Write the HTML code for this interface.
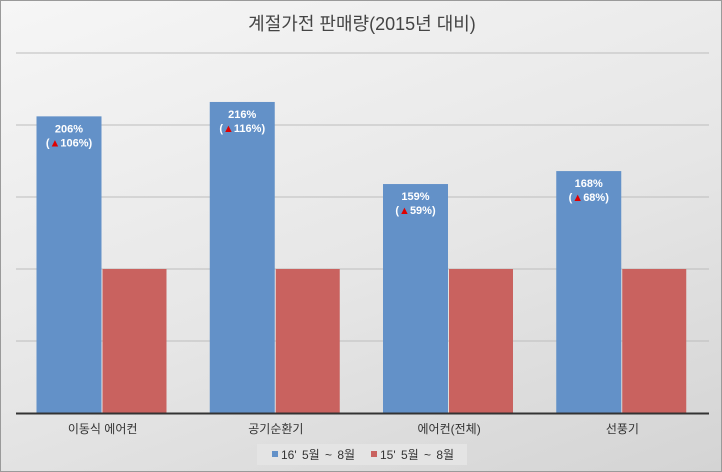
<!DOCTYPE html>
<html><head><meta charset="utf-8"><style>
body{margin:0}
#c{width:722px;height:472px;position:relative;overflow:hidden;background:linear-gradient(160deg,#f6f6f6 0%,#e6e6e6 55%,#d4d4d4 100%);border:1px solid #9a9a9a;box-sizing:border-box;font-family:"Liberation Sans","Noto Sans CJK KR",sans-serif}
svg{position:absolute;left:0;top:0}
</style></head><body>
<div id="c">
<svg id="s" width="722" height="472"></svg>
</div>
<script>
const categories=["이동식 에어컨","공기순환기","에어컨(전체)","선풍기"];
const series2016=[206,216,159,168];
const series2015=[100,100,100,100];
const changeLabels=["106%","116%","59%","68%"];
const gridTicks=[0,50,100,150,200,250];
const NS="http://www.w3.org/2000/svg";
const s=document.getElementById('s');
const L=15,R=708,B=412,T=52,MAX=250;
const y=v=>B-(v/MAX)*(B-T);
const gw=(R-L)/categories.length;
function mk(t,a,p){const e=document.createElementNS(NS,t);for(const k in a)e.setAttribute(k,a[k]);(p||s).appendChild(e);return e;}
let t=mk('text',{x:361,y:29,'text-anchor':'middle','font-size':18,fill:'#444'});

t.textContent='계절가전 판매량(2015년 대비)';
gridTicks.forEach(v=>{if(v===0)return;const g=mk('line',{x1:L,x2:R,y1:y(v),y2:y(v),stroke:'#bdbdbd','stroke-width':1});
});
categories.forEach((c,i)=>{
 const gx=L+gw*i;
 const b1=mk('rect',{x:gx+20.5,y:y(series2016[i]),width:65,height:B-y(series2016[i]),fill:'#6391c8'});
 
 const b2=mk('rect',{x:gx+86.5,y:y(series2015[i]),width:64,height:B-y(series2015[i]),fill:'#c9625f'});
 
 const cx=gx+53,ty=y(series2016[i]);
 const l1=mk('text',{x:cx,y:ty+16,'text-anchor':'middle','font-size':11,'font-weight':'bold',fill:'#fff'});
 
 l1.textContent=series2016[i]+'%';
 const l2=mk('text',{x:cx,y:ty+30,'text-anchor':'middle','font-size':11,'font-weight':'bold',fill:'#fff'});
 
 l2.innerHTML='(<tspan fill="#e00000">▲</tspan>'+changeLabels[i]+')';
 const cl=mk('text',{x:gx+gw/2,y:432,'text-anchor':'middle','font-size':12,fill:'#333'});
 
 cl.textContent=c;
});
const ax=mk('line',{x1:L,x2:R,y1:B+0.5,y2:B+0.5,stroke:'#333','stroke-width':2});

const lg=mk('rect',{x:256,y:443,width:210,height:21,fill:'#e4e4e4'});

[['#6391c8',"16' 5월 ~ 8월",271],['#c9625f',"15' 5월 ~ 8월",370]].forEach(([col,txt,x])=>{
 const m=mk('rect',{x:x,y:450,width:6,height:6,fill:col});
 
 const tx=mk('text',{x:x+9,y:458,'font-size':12,fill:'#333','word-spacing':2});
 
 tx.textContent=txt;
});
</script>
</body></html>
